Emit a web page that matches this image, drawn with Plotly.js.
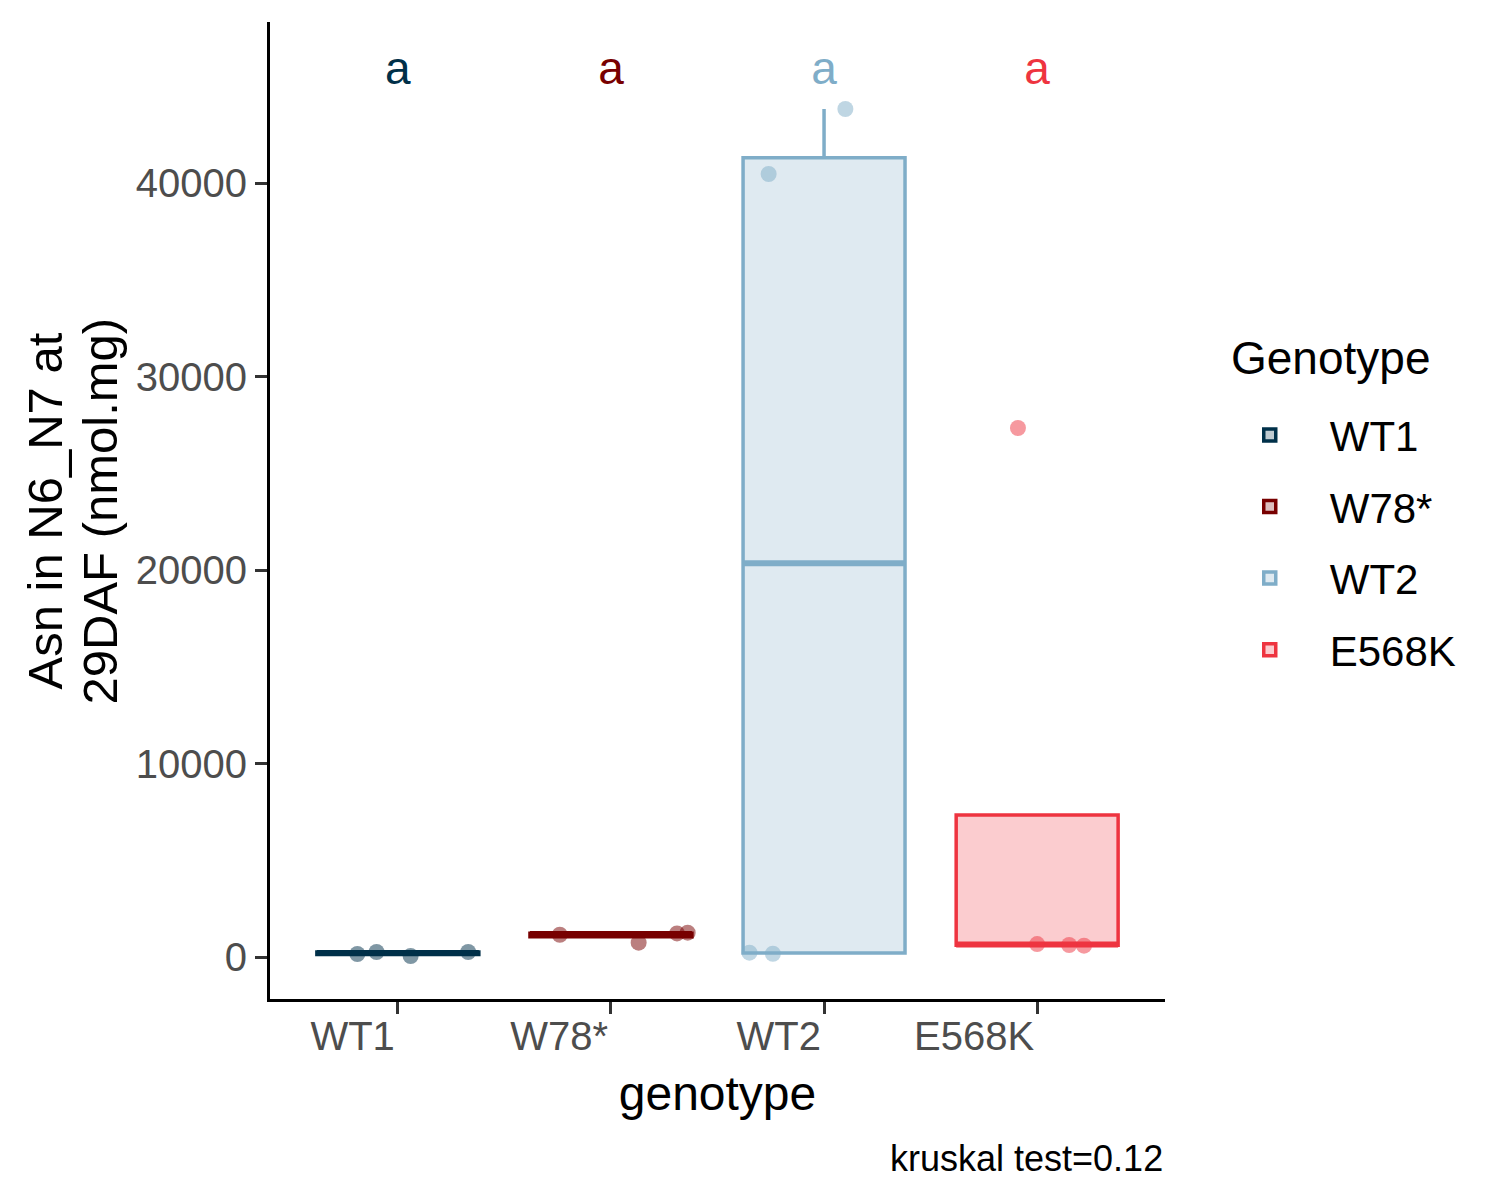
<!DOCTYPE html>
<html>
<head>
<meta charset="utf-8">
<script src="https://cdn.plot.ly/plotly-3.0.1.min.js"></script>
<style>
  body { margin: 0; background: #ffffff; }
  #plot { width: 1500px; height: 1200px; }
</style>
</head>
<body>
<div id="plot"></div>
<script>
// genotypes on the x axis, in plot order
const genotypes = ['WT1', 'W78*', 'WT2', 'E568K'];
const lineColors = ['#003049', '#780000', '#7FADC8', '#EE3440'];
const fillColors = ['rgba(0,48,73,0.25)', 'rgba(120,0,0,0.25)', 'rgba(127,173,200,0.25)', 'rgba(238,52,64,0.25)'];
const pointColors = ['rgba(0,48,73,0.5)', 'rgba(120,0,0,0.5)', 'rgba(127,173,200,0.5)', 'rgba(238,52,64,0.5)'];

// box statistics
const q1 = [125, 1050, 210, 610];
const median = [205, 1185, 20345, 645];
const q3 = [255, 1230, 41300, 7340];
const lowerFence = [50, 1150, 170, 585];
const upperFence = [260, 1260, 43825, 670];
const boxWidth = 0.76;

// raw points (jittered) per genotype
const pointsY = [
    [155, 258, 52, 258],
    [1150, 740, 1220, 1260],
    [225, 170, 40465, 43825],
    [27340, 670, 620, 585]
];
const jitterX = [
    [-0.19, -0.10, 0.06, 0.33],
    [-0.24, 0.13, 0.31, 0.36],
    [-0.35, -0.24, -0.26, 0.10],
    [-0.09, 0.00, 0.15, 0.22]
];

// compact letter display above each box
const letters = ['a', 'a', 'a', 'a'];
const letterY = 45700;

const yTitleLines = ['Asn in N6_N7 at', '29DAF (nmol.mg)'];

const font = 'Liberation Sans, Arial, sans-serif';

const traces = [];

genotypes.forEach((g, i) => {
    traces.push({
        type: 'box',
        name: g,
        legendgroup: g,
        x: [i],
        q1: [q1[i]],
        median: [median[i]],
        q3: [q3[i]],
        lowerfence: [lowerFence[i]],
        upperfence: [upperFence[i]],
        width: boxWidth,
        whiskerwidth: 0,
        boxpoints: false,
        line: { color: lineColors[i], width: 3.5 },
        fillcolor: fillColors[i],
        hoverinfo: 'skip'
    });
});

// thicker median bar, as ggplot draws it
genotypes.forEach((g, i) => {
    traces.push({
        type: 'scatter',
        mode: 'lines',
        x: [i - boxWidth / 2, i + boxWidth / 2],
        y: [median[i], median[i]],
        line: { color: lineColors[i], width: 6 },
        showlegend: false,
        hoverinfo: 'skip'
    });
});

genotypes.forEach((g, i) => {
    traces.push({
        type: 'scatter',
        mode: 'markers',
        x: jitterX[i].map(d => i + d),
        y: pointsY[i],
        marker: { color: pointColors[i], size: 16, line: { width: 0 } },
        showlegend: false,
        hoverinfo: 'y'
    });
});

traces.push({
    type: 'scatter',
    mode: 'text',
    x: genotypes.map((g, i) => i),
    y: letters.map(() => letterY),
    text: letters,
    textfont: { family: font, size: 46, color: lineColors },
    showlegend: false,
    hoverinfo: 'skip'
});

const layout = {
    width: 1500,
    height: 1200,
    margin: { l: 270, r: 335, t: 22, b: 201 },
    paper_bgcolor: '#ffffff',
    plot_bgcolor: '#ffffff',
    font: { family: font, color: '#000000' },
    showlegend: true,
    boxmode: 'overlay',
    xaxis: {
        range: [-0.6, 3.6],
        tickvals: [0, 1, 2, 3],
        ticktext: genotypes,
        ticklabelposition: 'outside left',
        ticks: 'outside',
        ticklen: 12,
        tickwidth: 3,
        tickcolor: '#333333',
        tickfont: { family: font, size: 40, color: '#4D4D4D' },
        showline: true,
        linecolor: '#000000',
        linewidth: 3,
        showgrid: false,
        zeroline: false,
        title: { text: 'genotype', font: { family: font, size: 48, color: '#000000' }, standoff: 20 }
    },
    yaxis: {
        range: [-2170, 48320],
        tickvals: [0, 10000, 20000, 30000, 40000],
        ticktext: ['0', '10000', '20000', '30000', '40000'],
        ticks: 'outside',
        ticklen: 12,
        tickwidth: 3,
        tickcolor: '#333333',
        tickfont: { family: font, size: 40, color: '#4D4D4D' },
        showline: true,
        linecolor: '#000000',
        linewidth: 3,
        showgrid: false,
        zeroline: false
    },
    legend: {
        x: 1.05,
        xanchor: 'left',
        y: 0.612,
        yanchor: 'top',
        traceorder: 'grouped',
        tracegroupgap: 14,
        itemwidth: 110,
        font: { family: font, size: 42, color: '#000000' },
        bgcolor: 'rgba(0,0,0,0)'
    },
    annotations: [
        {
            text: yTitleLines[0],
            xref: 'paper',
            yref: 'paper',
            x: -0.2514,
            xanchor: 'center',
            y: 0.5,
            yanchor: 'middle',
            textangle: -90,
            showarrow: false,
            font: { family: font, size: 49, color: '#000000' }
        },
        {
            text: yTitleLines[1],
            xref: 'paper',
            yref: 'paper',
            x: -0.19,
            xanchor: 'center',
            y: 0.5,
            yanchor: 'middle',
            textangle: -90,
            showarrow: false,
            font: { family: font, size: 49, color: '#000000' }
        },
        {
            text: 'Genotype',
            xref: 'paper',
            yref: 'paper',
            x: 1.072,
            xanchor: 'left',
            y: 0.656,
            yanchor: 'middle',
            showarrow: false,
            font: { family: font, size: 46, color: '#000000' }
        },
        {
            text: 'kruskal test=0.12',
            xref: 'paper',
            yref: 'paper',
            x: 1,
            xanchor: 'right',
            y: -0.163,
            yanchor: 'middle',
            showarrow: false,
            font: { family: font, size: 36, color: '#000000' }
        }
    ]
};

const config = { displayModeBar: false, staticPlot: true };

Plotly.newPlot('plot', traces, layout, config);
</script>
</body>
</html>
